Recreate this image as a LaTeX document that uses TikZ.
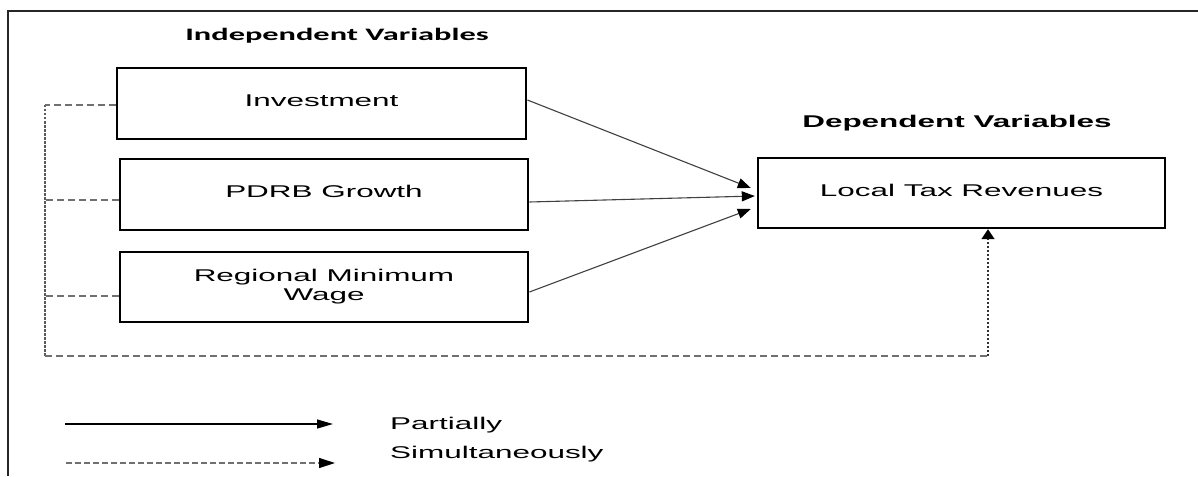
\documentclass[tikz,border=0pt]{standalone}
\usepackage{fontspec}
\setmainfont{Liberation Sans}[FakeStretch=1.85]
\newfontfamily\calibrifont{Carlito}[FakeStretch=1.85]
\usetikzlibrary{arrows.meta,calc}
\definecolor{lineg}{HTML}{404040}
\definecolor{dashg}{HTML}{707070}
\tikzset{
  varbox/.style={draw=black, line width=2.8pt, inner sep=0pt, font=\fontsize{17}{20}\selectfont},
  frameline/.style={draw=black!85, line width=2.4pt},
  partarrow/.style={draw=lineg, line width=1.1pt, -{Triangle[length=13pt,width=10pt,color=black]}},
  simline/.style={draw=dashg, line width=1.4pt, dash pattern=on 7pt off 4pt},
  simvert/.style={draw=dashg!80!black, line width=1.6pt, dash pattern=on 2.5pt off 1.5pt},
  heading/.style={font=\fontsize{17}{20}\selectfont\bfseries},
  legendtxt/.style={font=\fontsize{17}{20}\selectfont, anchor=west, inner sep=0pt}
}
\begin{document}
\begin{tikzpicture}[x=1pt,y=-1pt]
\useasboundingbox (0,0) rectangle (1198,476);
% frame
\draw[frameline] (8,476) -- (8,11) -- (1198,11);
% headings
\node[heading, font=\calibrifont\fontsize{17.5}{20}\selectfont\bfseries] (indep) at (337,36) {Independent Variables};
\node[heading] (dep) at (957,123) {Dependent Variables};
% boxes
\node[varbox, minimum width=409pt, minimum height=71pt] (inv) at (321.5,103.5) {\raisebox{6.5pt}{Investment}};
\node[varbox, minimum width=408pt, minimum height=71pt] (pdrb) at (324,194.5) {\raisebox{6.5pt}{PDRB Growth}};
\node[varbox, minimum width=408pt, minimum height=70pt] (rmw) at (324,287) {\raisebox{6pt}{\begin{tabular}{@{}c@{}}Regional Minimum\\[-1pt]Wage\end{tabular}}};
\node[varbox, line width=2.4pt, minimum width=407pt, minimum height=70pt] (ltr) at (961.5,193) {\raisebox{6pt}{Local Tax Revenues}};
% partial arrows
\draw[partarrow] ($(inv.east)+(0,-3.5)$) -- ($(ltr.west)+(-6,-5)$);
\draw[partarrow] ($(pdrb.east)+(0,7.5)$) -- ($(ltr.west)+(-2,3)$);
\draw[partarrow] ($(rmw.east)+(0,5)$) -- ($(ltr.west)+(-6,16)$);
% simultaneous connections
\coordinate (l1) at (45,105);
\coordinate (l2) at (45,200);
\coordinate (l3) at (45,296);
\coordinate (lb) at (45,356);
\coordinate (rb) at (988,356);
\draw[simvert] (l1) -- (lb);
\draw[simline] (inv.west |- l1) -- (l1);
\draw[simline] (pdrb.west |- l2) -- (l2);
\draw[simline] (rmw.west |- l3) -- (l3);
\draw[simline] (lb) -- (rb);
\draw[simvert, draw=black!80, -{Triangle[length=10pt,width=13pt,color=black]}] (rb) -- (rb |- ltr.south);
% legend
\coordinate (ps) at (65,424);
\coordinate (pe) at (333,424);
\coordinate (ss) at (66,463);
\coordinate (se) at (335,463);
\draw[draw=black, line width=1.2pt, -{Triangle[length=16pt,width=9pt]}] (ps) -- (pe);
\draw[draw=dashg, line width=1.3pt, dash pattern=on 6pt off 3pt, -{Triangle[length=16pt,width=10pt,color=black]}] (ss) -- (se);
\node[legendtxt] (partially) at (390,425) {Partially};
\node[legendtxt] (simult) at (390,454) {Simultaneously};
\end{tikzpicture}
\end{document}
